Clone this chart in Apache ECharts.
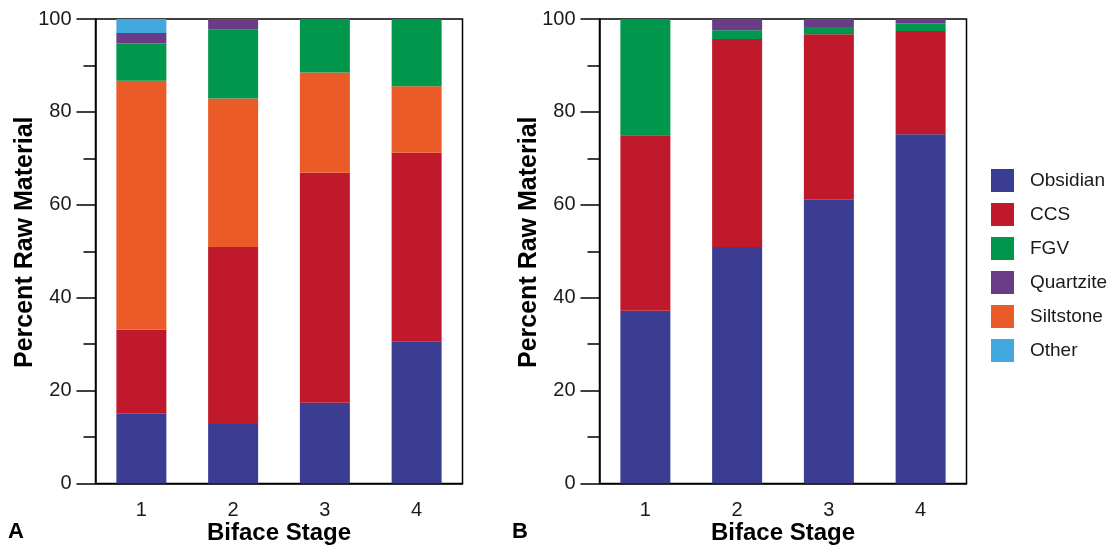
<!DOCTYPE html>
<html>
<head>
<meta charset="utf-8">
<script src="https://cdn.jsdelivr.net/npm/echarts@6/dist/echarts.min.js"></script>
<style>
  html, body { margin: 0; padding: 0; background: #fff; }
  #chart { width: 1115px; height: 550px; }
</style>
</head>
<body>
<div id="chart"></div>
<script>
// Biface stages (x categories)
const stages = ['1', '2', '3', '4'];

// Panel A: raw material percentages per stage
const obsidianA  = [15.0, 12.8, 17.4, 30.6];
const ccsA       = [18.1, 38.1, 49.5, 40.6];
const siltstoneA = [53.6, 32.0, 21.6, 14.3];
const fgvA       = [8.0, 14.8, 11.5, 14.5];
const quartziteA = [2.3, 2.3, 0, 0];
const otherA     = [3.0, 0, 0, 0];

// Panel B: raw material percentages per stage
const obsidianB  = [37.2, 50.9, 61.1, 75.2];
const ccsB       = [37.8, 44.8, 35.6, 22.2];
const fgvB       = [25.0, 1.9, 1.6, 1.7];
const quartziteB = [0, 2.4, 1.7, 0.9];

// Legend order and material colours
const legendOrder = ['Obsidian', 'CCS', 'FGV', 'Quartzite', 'Siltstone', 'Other'];
const colors = {
  Obsidian: '#3a3d92',
  CCS: '#c0192b',
  FGV: '#00964c',
  Quartzite: '#6a3c88',
  Siltstone: '#eb5b28',
  Other: '#41a8de'
};

const FONT = 'Liberation Sans, Arial, Helvetica, sans-serif';

function barSeries(name, data, gridIdx) {
  return {
    name: name,
    type: 'bar',
    stack: 'panel' + gridIdx,
    xAxisIndex: gridIdx,
    yAxisIndex: gridIdx,
    barWidth: 50,
    data: data,
    itemStyle: { color: colors[name] },
    emphasis: { disabled: true }
  };
}

function xAxis(gridIdx) {
  return {
    type: 'category',
    gridIndex: gridIdx,
    data: stages,
    name: 'Biface Stage',
    nameLocation: 'middle',
    nameMoveOverlap: false,
    nameGap: 38,
    nameTextStyle: { fontFamily: FONT, fontSize: 24, fontWeight: 'bold', color: '#000' },
    axisLine: { lineStyle: { color: '#000', width: 1.5 } },
    axisTick: { alignWithLabel: true, length: 10, lineStyle: { color: '#000', width: 1.5 } },
    axisLabel: { fontFamily: FONT, fontSize: 20, color: '#1a1a1a', margin: 17 }
  };
}

function yAxis(gridIdx) {
  return {
    type: 'value',
    gridIndex: gridIdx,
    min: 0,
    max: 100,
    interval: 20,
    name: 'Percent Raw Material',
    nameLocation: 'middle',
    nameMoveOverlap: false,
    nameGap: 58,
    nameTextStyle: { fontFamily: FONT, fontSize: 25, fontWeight: 'bold', color: '#000', padding: [0, 0, 0, 18] },
    axisLine: { show: true, lineStyle: { color: '#000', width: 1.5 } },
    axisTick: { show: true, length: 19, lineStyle: { color: '#000', width: 1.5 } },
    minorTick: { show: true, splitNumber: 2, length: 12, lineStyle: { color: '#000', width: 1.5 } },
    splitLine: { show: false },
    axisLabel: { fontFamily: FONT, fontSize: 20, color: '#1a1a1a', margin: 24 }
  };
}

const chart = echarts.init(document.getElementById('chart'), null, { renderer: 'canvas' });

chart.setOption({
  animation: false,
  backgroundColor: '#fff',
  grid: [
    { left: 95.5, top: 19, width: 367, height: 464.5, outerBoundsMode: 'none', containLabel: false, show: true, borderColor: '#000', borderWidth: 1.5, backgroundColor: 'transparent' },
    { left: 599.5, top: 19, width: 367, height: 464.5, outerBoundsMode: 'none', containLabel: false, show: true, borderColor: '#000', borderWidth: 1.5, backgroundColor: 'transparent' }
  ],
  xAxis: [xAxis(0), xAxis(1)],
  yAxis: [yAxis(0), yAxis(1)],
  legend: {
    data: legendOrder,
    orient: 'vertical',
    left: 986,
    top: 164,
    itemWidth: 23,
    itemHeight: 23,
    itemGap: 11,
    icon: 'rect',
    selectedMode: false,
    textStyle: { fontFamily: FONT, fontSize: 19, color: '#1a1a1a', padding: [0, 0, 0, 11] }
  },
  graphic: [
    { type: 'text', left: 8, top: 521, style: { text: 'A', font: 'bold 22px ' + FONT, fill: '#000' } },
    { type: 'text', left: 512, top: 521, style: { text: 'B', font: 'bold 22px ' + FONT, fill: '#000' } }
  ],
  series: [
    // Panel A stack, bottom to top
    barSeries('Obsidian', obsidianA, 0),
    barSeries('CCS', ccsA, 0),
    barSeries('Siltstone', siltstoneA, 0),
    barSeries('FGV', fgvA, 0),
    barSeries('Quartzite', quartziteA, 0),
    barSeries('Other', otherA, 0),
    // Panel B stack, bottom to top
    barSeries('Obsidian', obsidianB, 1),
    barSeries('CCS', ccsB, 1),
    barSeries('FGV', fgvB, 1),
    barSeries('Quartzite', quartziteB, 1)
  ]
});
</script>
</body>
</html>
